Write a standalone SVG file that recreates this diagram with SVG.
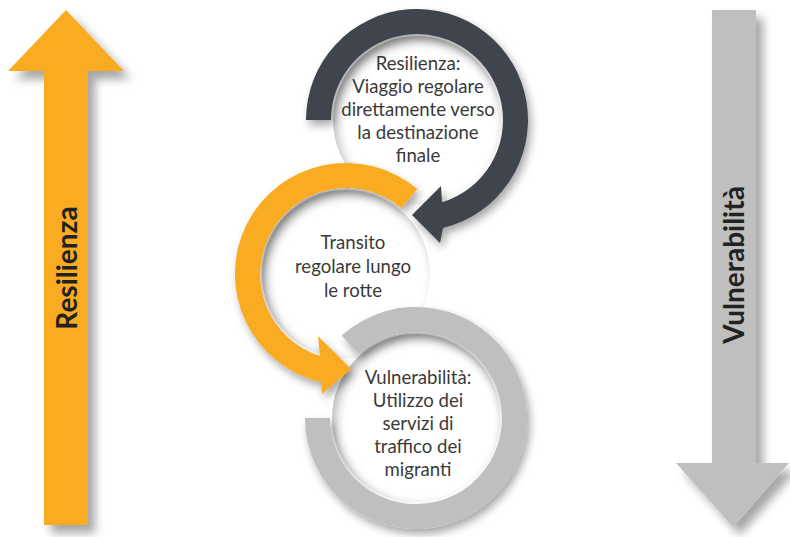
<svg xmlns="http://www.w3.org/2000/svg" width="790" height="537" viewBox="0 0 790 537">
  <style>
    .label { font-family: Lato, "Liberation Sans", sans-serif; font-size: 18.6px; fill: #3a3a3a; text-anchor: middle; }
    .axis { font-family: Lato, "Liberation Sans", sans-serif; font-size: 28px; font-weight: bold; fill: #222; text-anchor: middle; }
    .disk { fill: #ffffff; }
    .rim { fill: none; stroke: #000; stroke-opacity: 0.3; stroke-width: 22; }
  </style>
  <defs>
    <filter id="dropArrow" x="-30%" y="-10%" width="180%" height="130%">
      <feDropShadow dx="7" dy="8" stdDeviation="5" flood-color="#000" flood-opacity="0.35"/>
    </filter>
    <filter id="dropBand" x="-20%" y="-20%" width="150%" height="150%">
      <feDropShadow dx="3" dy="5" stdDeviation="4" flood-color="#000" flood-opacity="0.35"/>
    </filter>
    <filter id="soft" x="-20%" y="-20%" width="140%" height="140%">
      <feGaussianBlur stdDeviation="6"/>
    </filter>
    <clipPath id="clipTop"><circle cx="417" cy="120" r="84"/></clipPath>
    <clipPath id="clipMid"><circle cx="346" cy="274" r="84"/></clipPath>
    <clipPath id="clipBot"><circle cx="416" cy="418" r="84"/></clipPath>
  </defs>

  <!-- side axes -->
  <g id="axis-resilienza">
    <polygon points="66,10 124,71 88,71 88,525 44,525 44,71 8,71" fill="#f9ab24" filter="url(#dropArrow)"/>
    <text class="axis" transform="translate(67,268) rotate(-90)" x="0" y="10">Resilienza</text>
  </g>
  <g id="axis-vulnerabilita">
    <polygon points="712,10 756,10 756,463 789,463 733,527 676,463 712,463" fill="#bfbfbf" filter="url(#dropArrow)"/>
    <text class="axis" transform="translate(734,265) rotate(-90)" x="0" y="10">Vulnerabilità</text>
  </g>

  <!-- white disks with a soft inner rim shade -->
  <g id="disks">
    <circle class="disk" cx="417" cy="120" r="86"/>
    <circle class="disk" cx="346" cy="274" r="86"/>
    <circle class="disk" cx="416" cy="418" r="86"/>
    <g clip-path="url(#clipTop)"><circle class="rim" cx="421" cy="125" r="96" filter="url(#soft)"/></g>
    <g clip-path="url(#clipMid)"><circle class="rim" cx="350" cy="279" r="96" filter="url(#soft)"/></g>
    <g clip-path="url(#clipBot)"><circle class="rim" cx="420" cy="423" r="96" filter="url(#soft)"/></g>
  </g>

  <!-- circular arrows linking the three stages -->
  <g id="connectors" filter="url(#dropBand)">
    <path id="band-bottom" fill="#bfbfbf" d="M305,418 A111,111 0 1 0 341.7,335.5 L358.5,354.1 A86,86 0 1 1 330,418 Z"/>
    <path id="band-middle" fill="#f9ab24" d="M417.4,189 A111,111 0 1 0 321,382.1 L322,394 L351,369 L318,336 L320,356 A86,86 0 1 1 401.3,208.1 Z"/>
    <path id="band-top" fill="#3f444d" d="M306,120 A111,111 0 1 1 443,227.9 L440,243 L412,215 L441,186 L442,202.3 A86,86 0 1 0 331,120 Z"/>
  </g>

  <g id="node-top">
    <text class="label" x="418" y="70">Resilienza:</text>
    <text class="label" x="418" y="93">Viaggio regolare</text>
    <text class="label" x="418" y="116">direttamente verso</text>
    <text class="label" x="418" y="139">la destinazione</text>
    <text class="label" x="418" y="162">finale</text>
  </g>
  <g id="node-middle">
    <text class="label" x="353" y="249">Transito</text>
    <text class="label" x="353" y="273">regolare lungo</text>
    <text class="label" x="353" y="297">le rotte</text>
  </g>
  <g id="node-bottom">
    <text class="label" x="418" y="384">Vulnerabilità:</text>
    <text class="label" x="418" y="407">Utilizzo dei</text>
    <text class="label" x="418" y="430">servizi di</text>
    <text class="label" x="418" y="453">traffico dei</text>
    <text class="label" x="418" y="476">migranti</text>
  </g>
</svg>
